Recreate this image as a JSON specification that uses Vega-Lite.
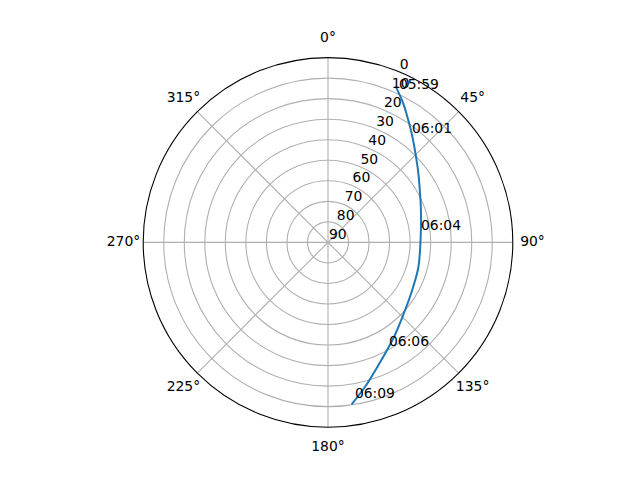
{
  "$schema": "https://vega.github.io/schema/vega-lite/v6.json",
  "width": 369.6,
  "height": 369.6,
  "autosize": "none",
  "padding": {"left": 143.2, "top": 57.6, "right": 127.2, "bottom": 52.8},
  "background": "white",
  "config": {"view": {"stroke": null}, "text": {"font": "DejaVu Sans", "fontSize": 13.9, "color": "black"}},
  "datasets": {
    "rings": [{"elev": 10}, {"elev": 20}, {"elev": 30}, {"elev": 40}, {"elev": 50}, {"elev": 60}, {"elev": 70}, {"elev": 80}],
    "outer": [{"elev": 0}],
    "spokes": [{"az": 0}, {"az": 45}, {"az": 90}, {"az": 135}],
    "angles": [
      {"az": 0, "label": "0°"}, {"az": 45, "label": "45°"}, {"az": 90, "label": "90°"}, {"az": 135, "label": "135°"},
      {"az": 180, "label": "180°"}, {"az": 225, "label": "225°"}, {"az": 270, "label": "270°"}, {"az": 315, "label": "315°"}
    ],
    "rticks": [{"elev": 0}, {"elev": 10}, {"elev": 20}, {"elev": 30}, {"elev": 40}, {"elev": 50}, {"elev": 60}, {"elev": 70}, {"elev": 80}, {"elev": 90}],
    "track": [
      {"n": 1, "az": 23.5, "el": 7.3},
      {"n": 2, "az": 28.4, "el": 13.0},
      {"n": 3, "az": 35.3, "el": 20.9},
      {"n": 4, "az": 40.3, "el": 25.7},
      {"n": 5, "az": 45.1, "el": 29.7},
      {"n": 6, "az": 52.6, "el": 34.6},
      {"n": 7, "az": 61.9, "el": 39.2},
      {"n": 8, "az": 67.1, "el": 41.0},
      {"n": 9, "az": 76.5, "el": 43.4},
      {"n": 10, "az": 88.5, "el": 44.9},
      {"n": 11, "az": 96.0, "el": 45.0},
      {"n": 12, "az": 106.0, "el": 44.3},
      {"n": 13, "az": 120.5, "el": 42.7},
      {"n": 14, "az": 134.0, "el": 39.1},
      {"n": 15, "az": 145.7, "el": 33.5},
      {"n": 16, "az": 158.9, "el": 24.3},
      {"n": 17, "az": 165.6, "el": 17.4},
      {"n": 18, "az": 171.7, "el": 10.3}
    ],
    "times": [
      {"az": 24.8, "el": 7.7, "time": "05:59"},
      {"az": 37.5, "el": 22.8, "time": "06:01"},
      {"az": 82.4, "el": 44.3, "time": "06:04"},
      {"az": 149.5, "el": 31.5, "time": "06:06"},
      {"az": 170.2, "el": 13.1, "time": "06:09"}
    ]
  },
  "layer": [
    {
      "data": {"name": "rings"},
      "mark": {"type": "arc", "theta": 0, "theta2": 6.2832, "filled": false, "stroke": "#b0b0b0", "strokeWidth": 1.1},
      "encoding": {
        "radius": {"field": "elev", "type": "quantitative", "stack": null, "scale": {"type": "linear", "domain": [90, 0], "range": [0, 184.8], "zero": false, "nice": false}}
      }
    },
    {
      "data": {"name": "spokes"},
      "transform": [
        {"calculate": "90*sin(datum.az*PI/180)", "as": "x1"},
        {"calculate": "90*cos(datum.az*PI/180)", "as": "y1"},
        {"calculate": "-datum.x1", "as": "x2"},
        {"calculate": "-datum.y1", "as": "y2"}
      ],
      "mark": {"type": "rule", "color": "#b0b0b0", "strokeWidth": 1.1},
      "encoding": {
        "x": {"field": "x1", "type": "quantitative", "scale": {"domain": [-90, 90], "nice": false, "zero": false}, "axis": null},
        "y": {"field": "y1", "type": "quantitative", "scale": {"domain": [-90, 90], "nice": false, "zero": false}, "axis": null},
        "x2": {"field": "x2"},
        "y2": {"field": "y2"}
      }
    },
    {
      "data": {"name": "outer"},
      "mark": {"type": "arc", "theta": 0, "theta2": 6.2832, "filled": false, "stroke": "black", "strokeWidth": 1.1},
      "encoding": {
        "radius": {"field": "elev", "type": "quantitative", "stack": null}
      }
    },
    {
      "data": {"name": "track"},
      "transform": [
        {"calculate": "(90-datum.el)*sin(datum.az*PI/180)", "as": "x"},
        {"calculate": "(90-datum.el)*cos(datum.az*PI/180)", "as": "y"}
      ],
      "mark": {"type": "line", "color": "#1f77b4", "strokeWidth": 2, "interpolate": "catmull-rom"},
      "encoding": {
        "x": {"field": "x", "type": "quantitative"},
        "y": {"field": "y", "type": "quantitative"},
        "order": {"field": "n", "type": "quantitative"}
      }
    },
    {
      "data": {"name": "rticks"},
      "mark": {"type": "text", "align": "left", "baseline": "bottom", "dx": 1},
      "encoding": {
        "theta": {"datum": 22.5, "type": "quantitative", "scale": {"domain": [0, 360], "range": [0, 6.283185]}},
        "radius": {"field": "elev", "type": "quantitative", "stack": null},
        "text": {"field": "elev", "type": "quantitative"}
      }
    },
    {
      "data": {"name": "angles"},
      "mark": {"type": "text", "align": "center", "baseline": "middle"},
      "encoding": {
        "theta": {"field": "az", "type": "quantitative", "stack": false},
        "radius": {"value": 204.5},
        "text": {"field": "label", "type": "nominal"}
      }
    },
    {
      "data": {"name": "times"},
      "transform": [
        {"calculate": "(90-datum.el)*sin(datum.az*PI/180)", "as": "x"},
        {"calculate": "(90-datum.el)*cos(datum.az*PI/180)", "as": "y"}
      ],
      "mark": {"type": "text", "align": "left", "baseline": "alphabetic"},
      "encoding": {
        "x": {"field": "x", "type": "quantitative"},
        "y": {"field": "y", "type": "quantitative"},
        "text": {"field": "time", "type": "nominal"}
      }
    }
  ]
}
